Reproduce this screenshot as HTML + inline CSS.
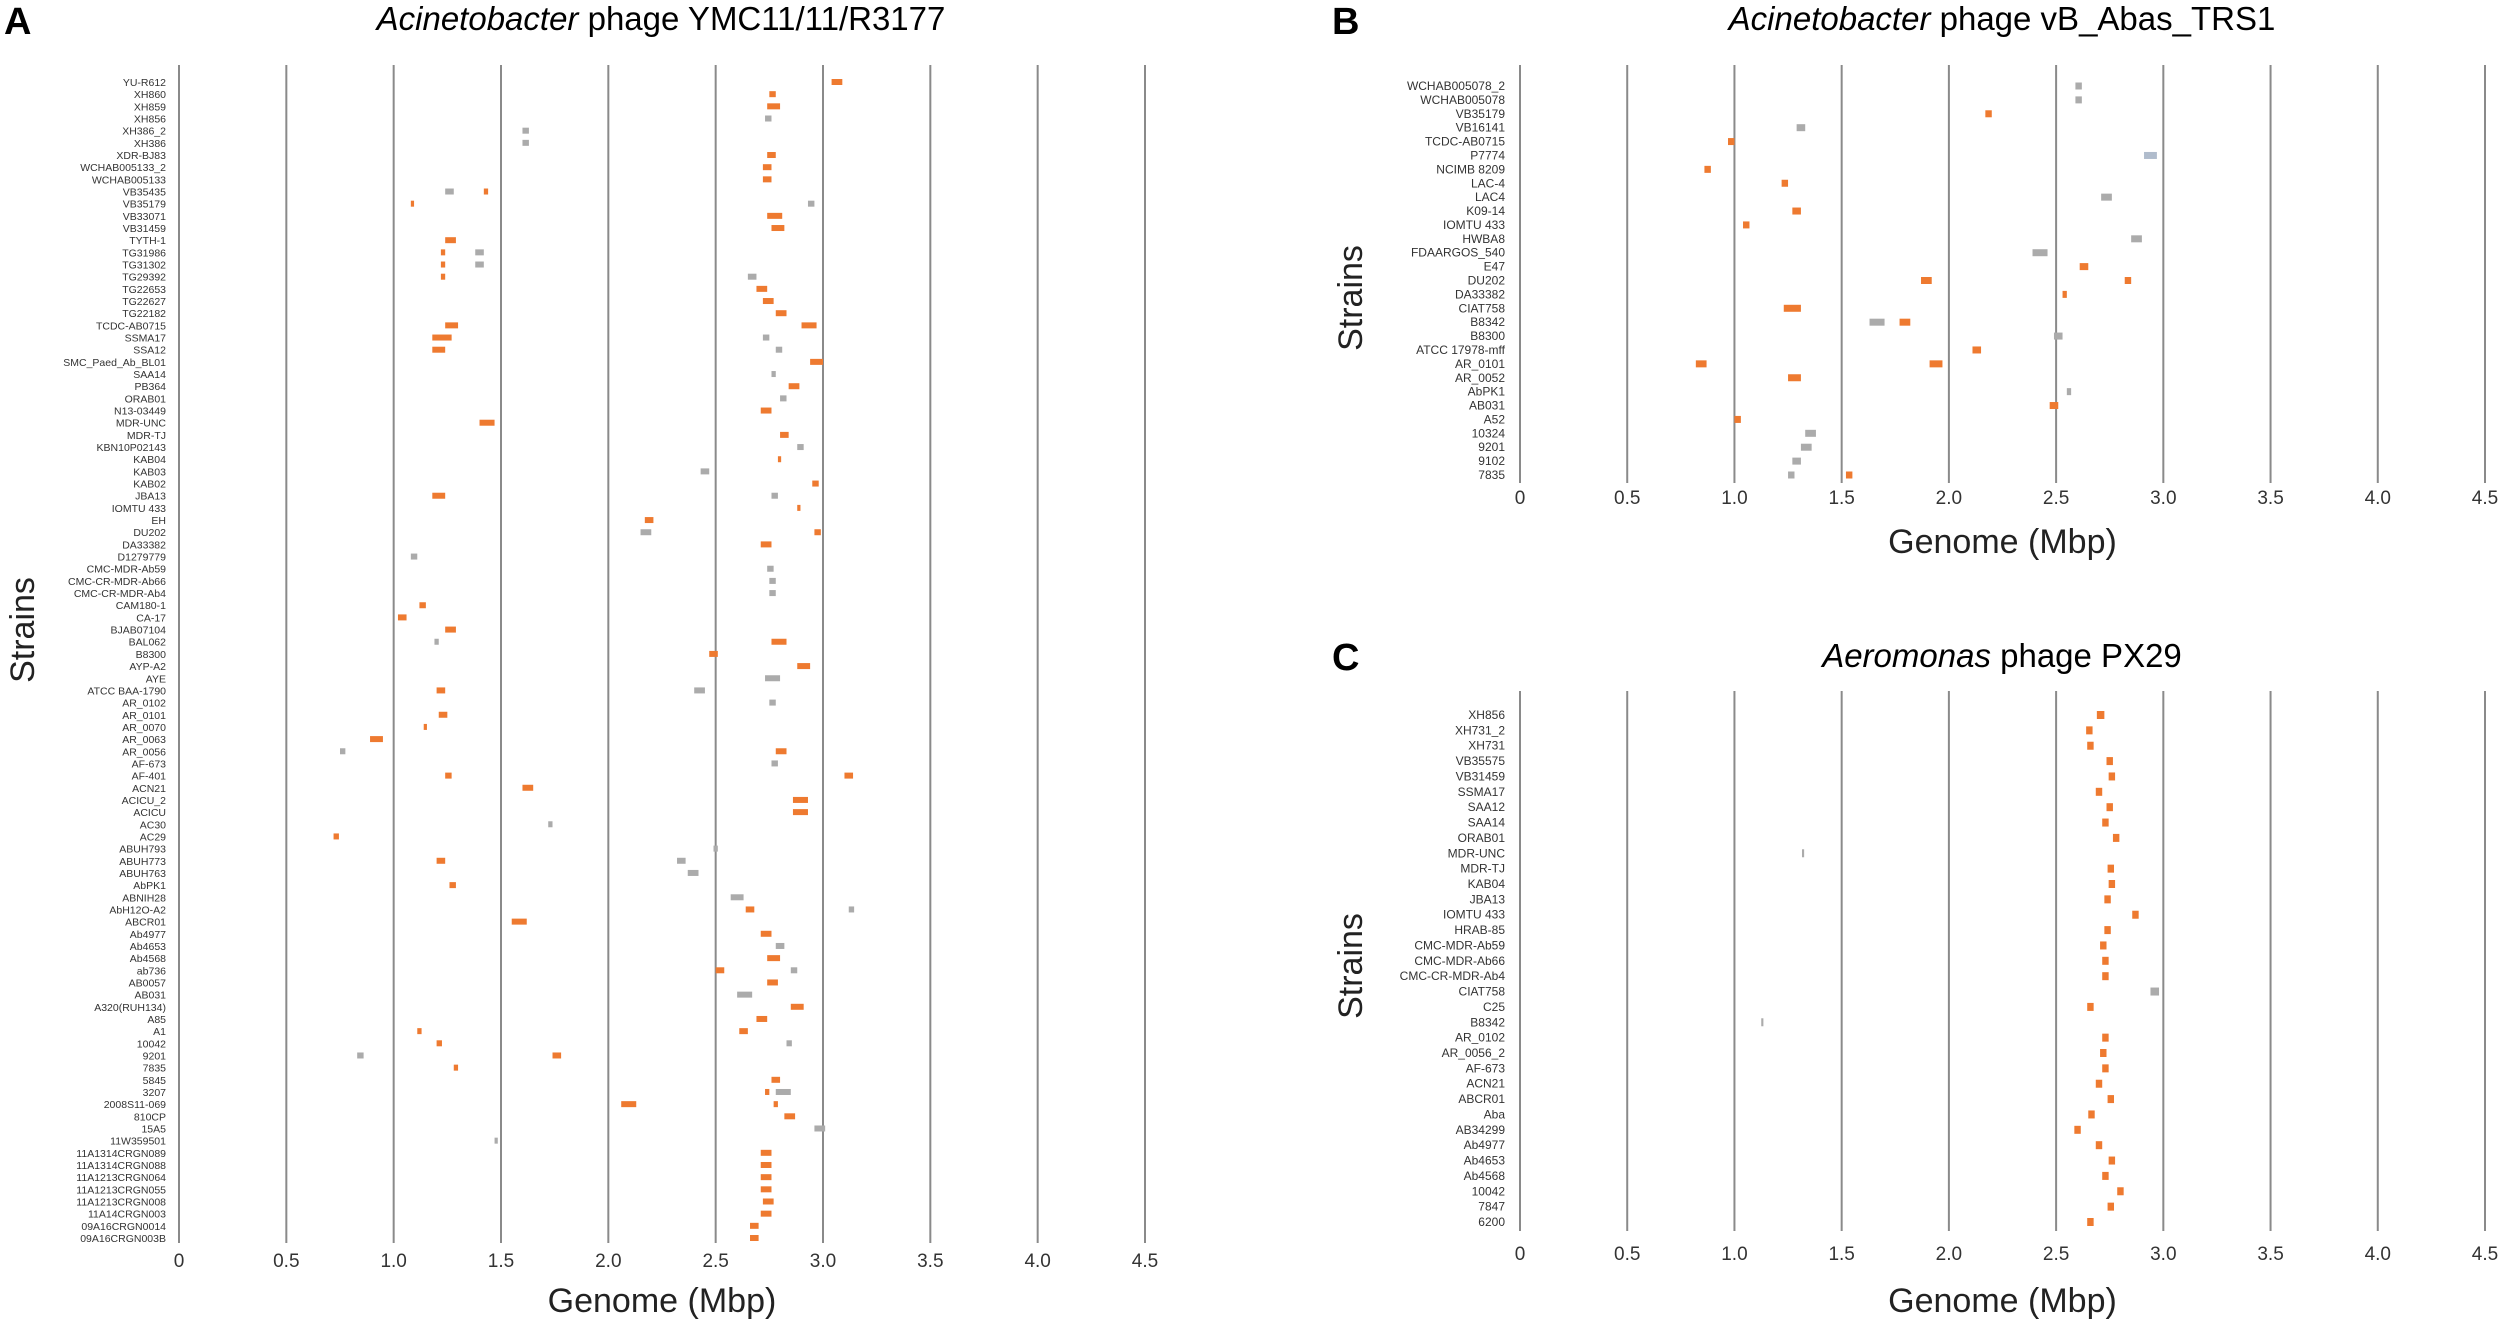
<!DOCTYPE html>
<html><head><meta charset="utf-8"><style>
body{margin:0;background:#fff}
svg{display:block;font-family:"Liberation Sans",sans-serif}
</style></head><body>
<svg id="chart" width="2500" height="1324" viewBox="0 0 2500 1324" xmlns="http://www.w3.org/2000/svg"></svg>
<script>
const ticksLabels=["0","0.5","1.0","1.5","2.0","2.5","3.0","3.5","4.0","4.5"];
const tickValues=[0,0.5,1,1.5,2,2.5,3,3.5,4,4.5];
const strainsA=["YU-R612","XH860","XH859","XH856","XH386_2","XH386","XDR-BJ83","WCHAB005133_2","WCHAB005133","VB35435","VB35179","VB33071","VB31459","TYTH-1","TG31986","TG31302","TG29392","TG22653","TG22627","TG22182","TCDC-AB0715","SSMA17","SSA12","SMC_Paed_Ab_BL01","SAA14","PB364","ORAB01","N13-03449","MDR-UNC","MDR-TJ","KBN10P02143","KAB04","KAB03","KAB02","JBA13","IOMTU 433","EH","DU202","DA33382","D1279779","CMC-MDR-Ab59","CMC-CR-MDR-Ab66","CMC-CR-MDR-Ab4","CAM180-1","CA-17","BJAB07104","BAL062","B8300","AYP-A2","AYE","ATCC BAA-1790","AR_0102","AR_0101","AR_0070","AR_0063","AR_0056","AF-673","AF-401","ACN21","ACICU_2","ACICU","AC30","AC29","ABUH793","ABUH773","ABUH763","AbPK1","ABNIH28","AbH12O-A2","ABCR01","Ab4977","Ab4653","Ab4568","ab736","AB0057","AB031","A320(RUH134)","A85","A1","10042","9201","7835","5845","3207","2008S11-069","810CP","15A5","11W359501","11A1314CRGN089","11A1314CRGN088","11A1213CRGN064","11A1213CRGN055","11A1213CRGN008","11A14CRGN003","09A16CRGN0014","09A16CRGN003B"];
// segments: [rowIndex, start, end, kind] kind: o=orange, g=gray, b=blue-gray
const segA=[[0,3.04,3.09,"o"],[1,2.75,2.78,"o"],[2,2.74,2.80,"o"],[3,2.73,2.76,"g"],[4,1.60,1.63,"g"],[5,1.60,1.63,"g"],[6,2.74,2.78,"o"],[7,2.72,2.76,"o"],[8,2.72,2.76,"o"],[9,1.24,1.28,"g"],[9,1.42,1.44,"o"],[10,1.08,1.095,"o"],[10,2.93,2.96,"g"],[11,2.74,2.81,"o"],[12,2.76,2.82,"o"],[13,1.24,1.29,"o"],[14,1.22,1.24,"o"],[14,1.38,1.42,"g"],[15,1.22,1.24,"o"],[15,1.38,1.42,"g"],[16,1.22,1.24,"o"],[16,2.65,2.69,"g"],[17,2.69,2.74,"o"],[18,2.72,2.77,"o"],[19,2.78,2.83,"o"],[20,1.24,1.30,"o"],[20,2.90,2.97,"o"],[21,1.18,1.27,"o"],[21,2.72,2.75,"g"],[22,1.18,1.24,"o"],[22,2.78,2.81,"g"],[23,2.94,3.00,"o"],[24,2.76,2.78,"g"],[25,2.84,2.89,"o"],[26,2.80,2.83,"g"],[27,2.71,2.76,"o"],[28,1.40,1.47,"o"],[29,2.80,2.84,"o"],[30,2.88,2.91,"g"],[31,2.79,2.805,"o"],[32,2.43,2.47,"g"],[33,2.95,2.98,"o"],[34,1.18,1.24,"o"],[34,2.76,2.79,"g"],[35,2.88,2.895,"o"],[36,2.17,2.21,"o"],[37,2.15,2.20,"g"],[37,2.96,2.99,"o"],[38,2.71,2.76,"o"],[39,1.08,1.11,"g"],[40,2.74,2.77,"g"],[41,2.75,2.78,"g"],[42,2.75,2.78,"g"],[43,1.12,1.15,"o"],[44,1.02,1.06,"o"],[45,1.24,1.29,"o"],[46,1.19,1.21,"g"],[46,2.76,2.83,"o"],[47,2.47,2.51,"o"],[48,2.88,2.94,"o"],[49,2.73,2.80,"g"],[50,1.20,1.24,"o"],[50,2.40,2.45,"g"],[51,2.75,2.78,"g"],[52,1.21,1.25,"o"],[53,1.14,1.155,"o"],[54,0.89,0.95,"o"],[55,0.75,0.775,"g"],[55,2.78,2.83,"o"],[56,2.76,2.79,"g"],[57,1.24,1.27,"o"],[57,3.10,3.14,"o"],[58,1.60,1.65,"o"],[59,2.86,2.93,"o"],[60,2.86,2.93,"o"],[61,1.72,1.74,"g"],[62,0.72,0.745,"o"],[63,2.49,2.51,"g"],[64,1.20,1.24,"o"],[64,2.32,2.36,"g"],[65,2.37,2.42,"g"],[66,1.26,1.29,"o"],[67,2.57,2.63,"g"],[68,2.64,2.68,"o"],[68,3.12,3.145,"g"],[69,1.55,1.62,"o"],[70,2.71,2.76,"o"],[71,2.78,2.82,"g"],[72,2.74,2.80,"o"],[73,2.50,2.54,"o"],[73,2.85,2.88,"g"],[74,2.74,2.79,"o"],[75,2.60,2.67,"g"],[76,2.85,2.91,"o"],[77,2.69,2.74,"o"],[78,1.11,1.13,"o"],[78,2.61,2.65,"o"],[79,1.20,1.225,"o"],[79,2.83,2.855,"g"],[80,0.83,0.86,"g"],[80,1.74,1.78,"o"],[81,1.28,1.30,"o"],[82,2.76,2.80,"o"],[83,2.73,2.75,"o"],[83,2.78,2.85,"g"],[84,2.06,2.13,"o"],[84,2.77,2.79,"o"],[85,2.82,2.87,"o"],[86,2.96,3.01,"g"],[87,1.47,1.485,"g"],[88,2.71,2.76,"o"],[89,2.71,2.76,"o"],[90,2.71,2.76,"o"],[91,2.71,2.76,"o"],[92,2.72,2.77,"o"],[93,2.71,2.76,"o"],[94,2.66,2.70,"o"],[95,2.66,2.70,"o"]];
const strainsB=["WCHAB005078_2","WCHAB005078","VB35179","VB16141","TCDC-AB0715","P7774","NCIMB 8209","LAC-4","LAC4","K09-14","IOMTU 433","HWBA8","FDAARGOS_540","E47","DU202","DA33382","CIAT758","B8342","B8300","ATCC 17978-mff","AR_0101","AR_0052","AbPK1","AB031","A52","10324","9201","9102","7835"];
const segB=[[0,2.59,2.62,"g"],[1,2.59,2.62,"g"],[2,2.17,2.20,"o"],[3,1.29,1.33,"g"],[4,0.97,1.00,"o"],[5,2.91,2.97,"b"],[6,0.86,0.89,"o"],[7,1.22,1.25,"o"],[8,2.71,2.76,"g"],[9,1.27,1.31,"o"],[10,1.04,1.07,"o"],[11,2.85,2.90,"g"],[12,2.39,2.46,"g"],[13,2.61,2.65,"o"],[14,1.87,1.92,"o"],[14,2.82,2.85,"o"],[15,2.53,2.55,"o"],[16,1.23,1.31,"o"],[17,1.63,1.70,"g"],[17,1.77,1.82,"o"],[18,2.49,2.53,"g"],[19,2.11,2.15,"o"],[20,0.82,0.87,"o"],[20,1.91,1.97,"o"],[21,1.25,1.31,"o"],[22,2.55,2.57,"g"],[23,2.47,2.51,"o"],[24,1.00,1.03,"o"],[25,1.33,1.38,"g"],[26,1.31,1.36,"g"],[27,1.27,1.31,"g"],[28,1.25,1.28,"g"],[28,1.52,1.55,"o"]];
const strainsC=["XH856","XH731_2","XH731","VB35575","VB31459","SSMA17","SAA12","SAA14","ORAB01","MDR-UNC","MDR-TJ","KAB04","JBA13","IOMTU 433","HRAB-85","CMC-MDR-Ab59","CMC-MDR-Ab66","CMC-CR-MDR-Ab4","CIAT758","C25","B8342","AR_0102","AR_0056_2","AF-673","ACN21","ABCR01","Aba","AB34299","Ab4977","Ab4653","Ab4568","10042","7847","6200"];
const segC=[[0,2.69,2.725,"o"],[1,2.64,2.67,"o"],[2,2.645,2.675,"o"],[3,2.735,2.765,"o"],[4,2.745,2.775,"o"],[5,2.685,2.715,"o"],[6,2.735,2.765,"o"],[7,2.715,2.745,"o"],[8,2.765,2.795,"o"],[9,1.315,1.325,"g"],[10,2.74,2.77,"o"],[11,2.745,2.775,"o"],[12,2.725,2.755,"o"],[13,2.855,2.885,"o"],[14,2.725,2.755,"o"],[15,2.705,2.735,"o"],[16,2.715,2.745,"o"],[17,2.715,2.745,"o"],[18,2.94,2.98,"g"],[19,2.645,2.675,"o"],[20,1.125,1.135,"g"],[21,2.715,2.745,"o"],[22,2.705,2.735,"o"],[23,2.715,2.745,"o"],[24,2.685,2.715,"o"],[25,2.74,2.77,"o"],[26,2.65,2.68,"o"],[27,2.585,2.615,"o"],[28,2.685,2.715,"o"],[29,2.745,2.775,"o"],[30,2.715,2.745,"o"],[31,2.785,2.815,"o"],[32,2.74,2.77,"o"],[33,2.645,2.675,"o"]];

const NS="http://www.w3.org/2000/svg";
const svg=document.getElementById("chart");
const colors={o:"#EE7A30",g:"#ABABAB",b:"#B0BCCC"};
function mk(tag,attrs,parent,text){const e=document.createElementNS(NS,tag);for(const k in attrs)e.setAttribute(k,attrs[k]);if(text!==undefined)e.textContent=text;(parent||svg).appendChild(e);return e;}

function drawPanel(p){
  const g=mk("g",{});
  
  
  const xs=v=>p.x0+(v/4.5)*(p.x1-p.x0);
  const ys=i=>p.r0+i*(p.rN-p.r0)/(p.strains.length-1);
  const letter=mk("text",{x:p.lx,y:p.ly,"font-size":38,"font-weight":"bold"},g,p.letter);
  
  
  const t=mk("text",{x:p.tx,y:p.ty,"font-size":33,"text-anchor":"middle"},g);
  
  
  mk("tspan",{"font-style":"italic"},t,p.genus);
  mk("tspan",{},t," "+p.phage);
  tickValues.forEach((v,i)=>{
    const l=mk("line",{x1:xs(v),x2:xs(v),y1:p.top,y2:p.bot,stroke:"#8a8a8a","stroke-width":2},g);
    
    
    const tl=mk("text",{x:xs(v),y:p.tickY,"font-size":19,"text-anchor":"middle",fill:"#333"},g,ticksLabels[i]);
    
    
  });
  p.strains.forEach((s,i)=>{
    const tl=mk("text",{x:p.labX,y:ys(i)+4,"font-size":p.fs,"text-anchor":"end",fill:"#333"},g,s);
    
    
  });
  p.segs.forEach(sg=>{
    const r=mk("rect",{x:xs(sg[1]),y:ys(sg[0])-p.bh/2,width:Math.max(2,xs(sg[2])-xs(sg[1])),height:p.bh,fill:colors[sg[3]]},g);
    
    
  });
  const xt=mk("text",{x:(p.x0+p.x1)/2,y:p.xtY,"font-size":34,"text-anchor":"middle",fill:"#222"},g,"Genome (Mbp)");
  
  
  const yt=mk("text",{x:0,y:0,"font-size":34,"text-anchor":"middle",fill:"#222",transform:"translate("+p.ytX+","+p.ytY+") rotate(-90)"},g,"Strains");
  
  
}
drawPanel({id:"a",letter:"A",lx:4,ly:34,genus:"Acinetobacter",phage:"phage YMC11/11/R3177",tx:661,ty:30,x0:179,x1:1145,top:65,bot:1243,r0:82,rN:1238,strains:strainsA,segs:segA,bh:6,fs:10.5,labX:166,tickY:1267,xtY:1312,ytX:34,ytY:630});
drawPanel({id:"b",letter:"B",lx:1332,ly:34,genus:"Acinetobacter",phage:"phage vB_Abas_TRS1",tx:2002,ty:30,x0:1520,x1:2485,top:65,bot:483,r0:86,rN:475,strains:strainsB,segs:segB,bh:7,fs:12,labX:1505,tickY:504,xtY:553,ytX:1362,ytY:298});
drawPanel({id:"c",letter:"C",lx:1332,ly:670,genus:"Aeromonas",phage:"phage PX29",tx:2002,ty:667,x0:1520,x1:2485,top:691,bot:1231,r0:715,rN:1222,strains:strainsC,segs:segC,bh:8,fs:12,labX:1505,tickY:1260,xtY:1312,ytX:1362,ytY:966});
</script>
</body></html>
